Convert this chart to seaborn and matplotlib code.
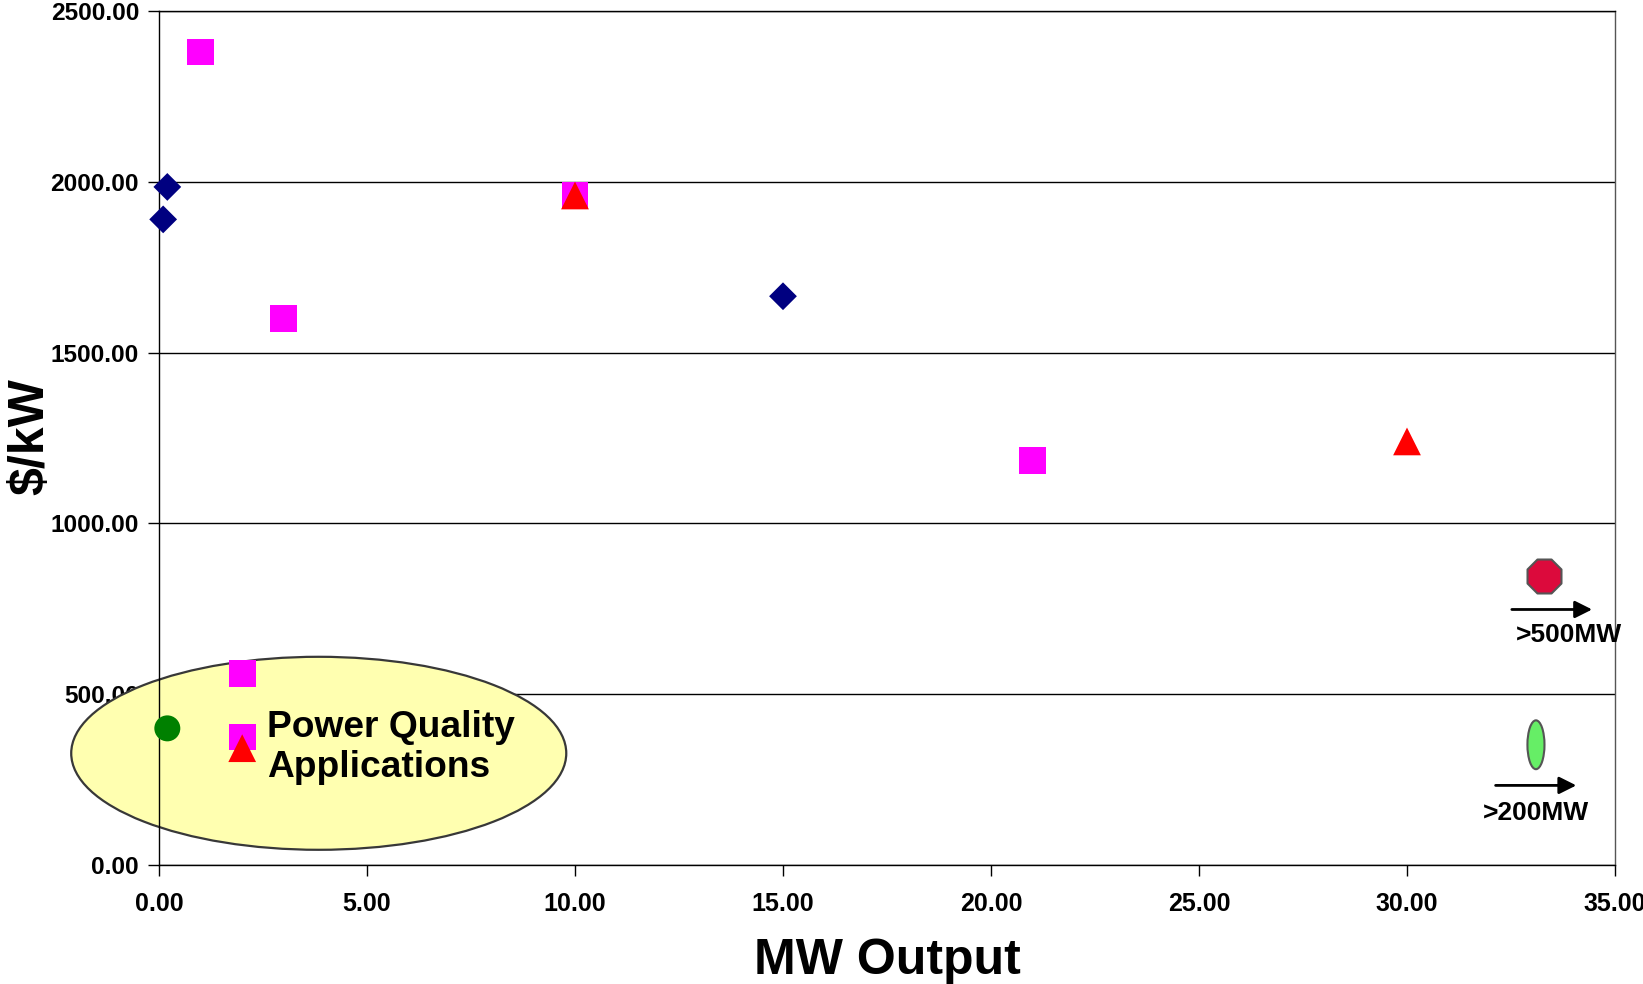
import matplotlib
matplotlib.use("Agg")
import matplotlib.pyplot as plt
from matplotlib.patches import Ellipse
from matplotlib.ticker import FormatStrFormatter
import seaborn as sns
import pandas as pd

# ---- data ----
diamond_x = [0.2, 0.1, 15.0]
diamond_y = [1985, 1890, 1665]
square_x = [1.0, 3.0, 10.0, 21.0, 2.0, 2.0]
square_y = [2380, 1600, 1960, 1185, 560, 375]
triangle_x = [10.0, 30.0, 2.0]
triangle_y = [1960, 1240, 342]
circle_x = [0.2]
circle_y = [400]
# off-scale markers (plotted near right edge, with arrows)
offscale_labels = [">500MW", ">200MW"]
offscale_x = [33.3, 33.1]
offscale_y = [845, 352]
x_ticks = [0, 5, 10, 15, 20, 25, 30, 35]
y_ticks = [0, 500, 1000, 1500, 2000, 2500]
annotation_text = "Power Quality\nApplications"

sns.set_theme(style="white")
plt.rcParams["font.family"] = ["Liberation Sans", "DejaVu Sans"]
plt.rcParams["font.weight"] = "bold"
plt.rcParams["text.color"] = "black"
plt.rcParams["axes.labelcolor"] = "black"
plt.rcParams["xtick.color"] = "black"
plt.rcParams["ytick.color"] = "black"

fig = plt.figure(figsize=(16.43, 9.84), dpi=100)
ax = fig.add_axes([159 / 1643, 1 - 865 / 984, (1615 - 159) / 1643, (865 - 11) / 984])
ax.set_facecolor("white")

df_d = pd.DataFrame({"x": diamond_x, "y": diamond_y})
df_s = pd.DataFrame({"x": square_x, "y": square_y})
df_t = pd.DataFrame({"x": triangle_x, "y": triangle_y})
df_c = pd.DataFrame({"x": circle_x, "y": circle_y})

# Power quality ellipse (behind everything)
pq = Ellipse((3.84, 327), width=11.9, height=565, facecolor="#FFFFB0",
             edgecolor="#383838", linewidth=1.6, zorder=1, clip_on=False)
ax.add_patch(pq)

sns.scatterplot(data=df_d, x="x", y="y", ax=ax, marker="D", s=200,
                color="#000080", edgecolor="none", zorder=3, clip_on=False)
sns.scatterplot(data=df_s, x="x", y="y", ax=ax, marker="s", s=370,
                color="#FF00FF", edgecolor="none", zorder=3, clip_on=False)
sns.scatterplot(data=df_t, x="x", y="y", ax=ax, marker="^", s=400,
                color="#FF0000", edgecolor="none", zorder=4, clip_on=False)
sns.scatterplot(data=df_c, x="x", y="y", ax=ax, marker="o", s=350,
                color="#008000", edgecolor="none", zorder=3, clip_on=False)

# off-scale: octagon and thin green ellipse
sns.scatterplot(x=[offscale_x[0]], y=[offscale_y[0]], ax=ax, marker="8", s=700,
                color="#DC0A3C", edgecolor="#555555", linewidth=1.5, zorder=4)
ge = Ellipse((offscale_x[1], offscale_y[1]), width=0.41, height=143,
             facecolor="#66EE66", edgecolor="#555555", linewidth=1.5, zorder=4)
ax.add_patch(ge)

# arrows + labels
arrow_kw = dict(arrowstyle="-|>", color="black", lw=2, mutation_scale=26,
                shrinkA=0, shrinkB=0)
ax.annotate("", xy=(34.45, 748), xytext=(32.52, 748), arrowprops=arrow_kw, zorder=5)
ax.text(33.89, 672, offscale_labels[0], ha="center", va="center",
        fontsize=19, fontweight="bold", clip_on=False, zorder=5)
ax.annotate("", xy=(34.07, 233), xytext=(32.13, 233), arrowprops=arrow_kw, zorder=5)
ax.text(33.1, 151, offscale_labels[1], ha="center", va="center",
        fontsize=19, fontweight="bold", clip_on=False, zorder=5)

ax.text(2.59, 344, annotation_text, ha="left", va="center", fontsize=26.7,
        fontweight="bold", linespacing=1.2, zorder=5)

ax.set_xlim(0, 35)
ax.set_ylim(0, 2500)
ax.set_xticks(x_ticks)
ax.set_yticks(y_ticks)
ax.xaxis.set_major_formatter(FormatStrFormatter("%.2f"))
ax.yaxis.set_major_formatter(FormatStrFormatter("%.2f"))
ax.tick_params(axis="x", direction="out", length=8, width=1, color="black",
               pad=11.5, labelsize=18, bottom=True, labelcolor="black")
ax.tick_params(axis="y", direction="out", length=8, width=1, color="black",
               pad=6.4, labelsize=17.6, left=True, labelcolor="black")
for lbl in ax.get_xticklabels() + ax.get_yticklabels():
    lbl.set_fontweight("bold")

ax.grid(axis="y", color="black", linewidth=1)
ax.grid(axis="x", visible=False)
for side in ["left", "bottom", "right", "top"]:
    ax.spines[side].set_visible(True)
    ax.spines[side].set_color("black")
    ax.spines[side].set_linewidth(1)
ax.spines["right"].set_color("#555555")

ax.set_xlabel("MW Output", fontsize=36, fontweight="bold", va="baseline")
ax.xaxis.set_label_coords(0.5, -0.128)
ax.set_ylabel("$/kW", fontsize=36, fontweight="bold", va="baseline")
ax.yaxis.set_label_coords(-0.0795, 0.502)

fig.savefig("out.png", dpi=100, facecolor="white")
